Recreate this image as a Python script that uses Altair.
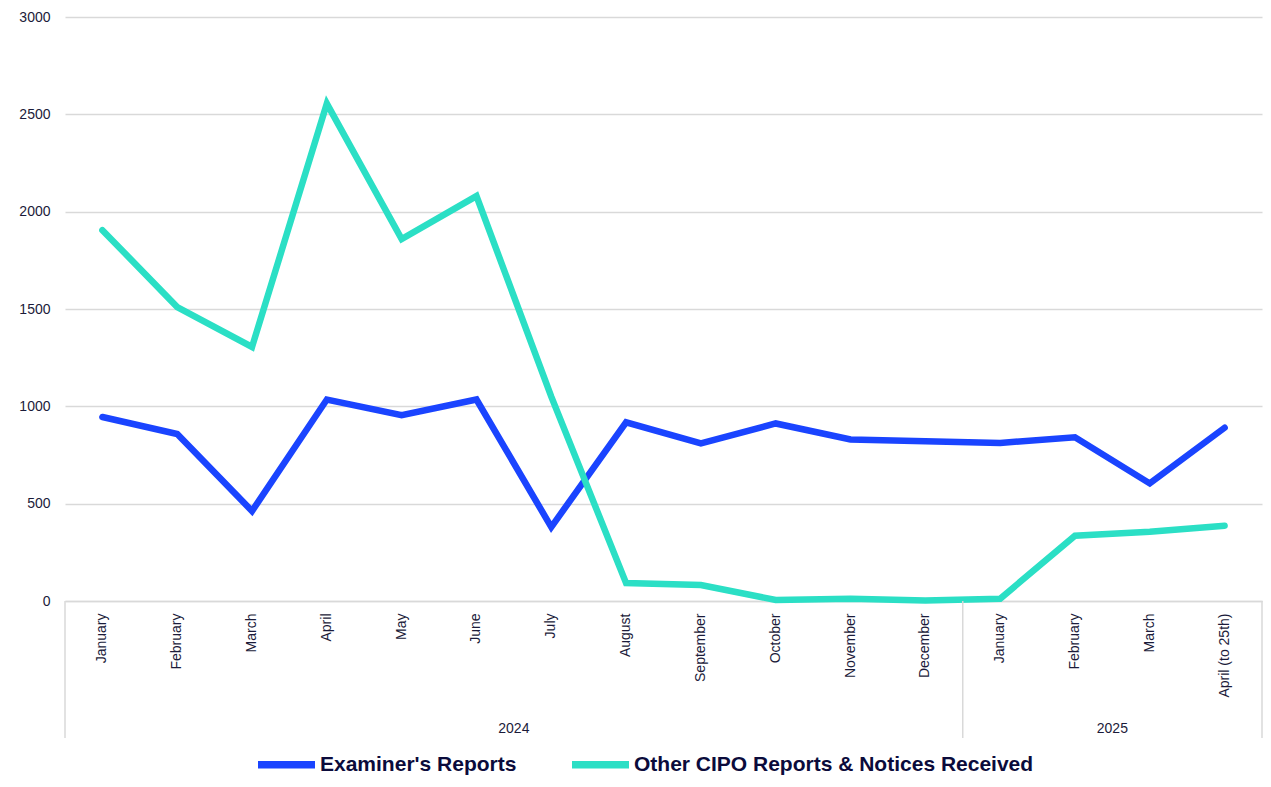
import altair as alt
import pandas as pd

months_2024 = ["January", "February", "March", "April", "May", "June", "July",
               "August", "September", "October", "November", "December"]
months_2025 = ["January", "February", "March", "April (to 25th)"]
keys = [f"2024|{m}" for m in months_2024] + [f"2025|{m}" for m in months_2025]

examiner = [945, 858, 462, 1035, 955, 1035, 380, 918, 810, 912, 830, 820, 812, 841, 604, 890]
other = [1905, 1510, 1305, 2555, 1859, 2080, 1050, 92, 82, 5, 12, 3, 12, 335, 356, 387]

series_names = ["Examiner's Reports", "Other CIPO Reports & Notices Received"]
colors = ["#1A44FF", "#2BDFC5"]

rows = []
for i, (k, a, b) in enumerate(zip(keys, examiner, other)):
    rows.append({"idx": i, "key": k, "series": series_names[0], "value": a})
    rows.append({"idx": i, "key": k, "series": series_names[1], "value": b})
df = pd.DataFrame(rows)

year_labels = pd.DataFrame({"key": ["2024|June", "2025|February"], "label": ["2024", "2025"]})
sep_left = pd.DataFrame({"key": ["2024|January", "2025|January"]})
sep_right = pd.DataFrame({"key": ["2025|April (to 25th)"]})

text_color = "#1B1B3A"
grid_color = "#D9D9D9"
font = "Liberation Sans"
xscale = alt.Scale(type="band", domain=keys, paddingInner=0, paddingOuter=0)

lines = alt.Chart(df).mark_line(strokeWidth=6.5, strokeCap="round").encode(
    x=alt.X("key:N", sort=keys, scale=xscale, bandPosition=0.5,
            axis=alt.Axis(title=None, labelAngle=-90, labelAlign="right",
                          labelBaseline="middle", labelPadding=12, ticks=False,
                          domainColor=grid_color, domainWidth=1.5, grid=False,
                          labelFontSize=14, labelColor=text_color, labelFont=font,
                          labelExpr="split(datum.value, '|')[1]", labelLimit=300)),
    y=alt.Y("value:Q", scale=alt.Scale(domain=[0, 3000], nice=False),
            axis=alt.Axis(title=None, values=[0, 500, 1000, 1500, 2000, 2500, 3000],
                          format="d", grid=True, gridColor=grid_color, gridWidth=1.5,
                          domain=False, ticks=False, labelPadding=15, labelFontSize=14,
                          labelColor=text_color, labelFont=font)),
    color=alt.Color("series:N", scale=alt.Scale(domain=series_names, range=colors),
                    legend=alt.Legend(title=None, orient="none", legendX=189, legendY=715,
                                      direction="horizontal", symbolType="stroke",
                                      symbolSize=3249, symbolStrokeWidth=7.5, padding=0,
                                      labelFontSize=21, labelFontWeight="bold",
                                      labelColor="#0B0B3B", labelFont=font,
                                      columnPadding=40, labelLimit=500, labelOffset=1)),
    order=alt.Order("idx:Q"),
)

years = alt.Chart(year_labels).mark_text(fontSize=14, color=text_color,
                                          font=font, baseline="middle").encode(
    x=alt.X("key:N", sort=keys, scale=xscale, bandPosition=1),
    y=alt.value(712),
    text="label:N",
)

rule_l = alt.Chart(sep_left).mark_rule(color=grid_color, strokeWidth=1.5).encode(
    x=alt.X("key:N", sort=keys, scale=xscale, bandPosition=0),
    y=alt.value(584), y2=alt.value(721),
)
rule_r = alt.Chart(sep_right).mark_rule(color=grid_color, strokeWidth=1.5).encode(
    x=alt.X("key:N", sort=keys, scale=xscale, bandPosition=1),
    y=alt.value(584), y2=alt.value(721),
)

chart = alt.layer(lines, rule_l, rule_r, years).properties(
    width=1197, height=584,
    autosize=alt.AutoSizeParams(type="none"),
    padding={"left": 57, "top": 9, "right": 1, "bottom": 178},
).configure_view(stroke=None)

chart.save("out.html", embed_options={"renderer": "svg", "actions": False})
